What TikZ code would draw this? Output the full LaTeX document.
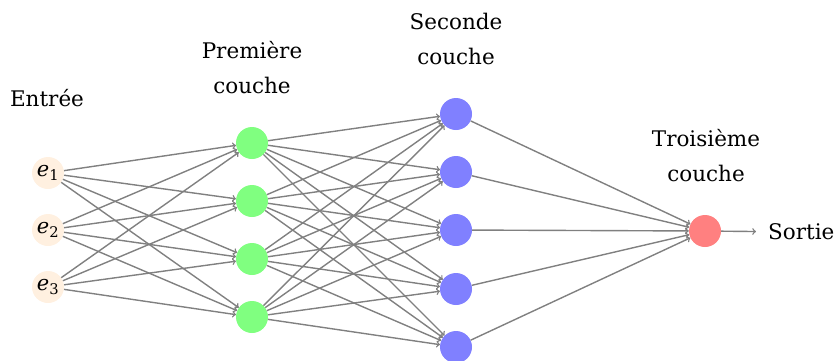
\documentclass[tikz,border=0pt]{standalone}
\usepackage{fontspec}
\setmainfont{DejaVu Serif}
\begin{document}
\begin{tikzpicture}[x=1pt,y=-1pt,
  neuron/.style={circle,minimum size=32pt,inner sep=0pt,draw=none},
  inp/.style={neuron,fill=orange!12,font=\fontsize{21}{24}\selectfont},
  hA/.style={neuron,fill=green!50},
  hB/.style={neuron,fill=blue!50},
  outn/.style={neuron,fill=red!50},
  conn/.style={draw=gray,line width=1.4pt,-to},
  lbl/.style={align=center,inner sep=0pt,font=\fontsize{21.5}{35}\selectfont}]
\useasboundingbox (0,0) rectangle (834,360);
\foreach \i/\y in {1/173,2/230,3/287}
  \node[inp] (I\i) at (48,\y) {\textit{e}\textsubscript{\i}};
\foreach \i/\y in {1/143,2/201,3/259,4/317}
  \node[hA] (A\i) at (252,\y) {};
\foreach \i/\y in {1/114,2/172,3/230,4/289,5/347}
  \node[hB] (B\i) at (456,\y) {};
\node[outn] (O) at (705,231) {};
\node[lbl,anchor=west,inner xsep=12pt] (S) at (756,232) {Sortie};
\node[lbl,anchor=base] (LI) at (47,106) {Entrée};
\node[lbl] (LA) at (252,68) {Première\\couche};
\node[lbl] (LB) at (456,38.5) {Seconde\\couche};
\node[lbl] (LO) at (706,156) {Troisième\\couche};
\foreach \i in {1,2,3}
  \foreach \j in {1,...,4}
    \draw[conn] (I\i) -- (A\j);
\foreach \i in {1,...,4}
  \foreach \j in {1,...,5}
    \draw[conn] (A\i) -- (B\j);
\foreach \i in {1,...,5}
  \draw[conn] (B\i) -- (O);
\draw[conn] (O) -- (S);
\end{tikzpicture}
\end{document}
